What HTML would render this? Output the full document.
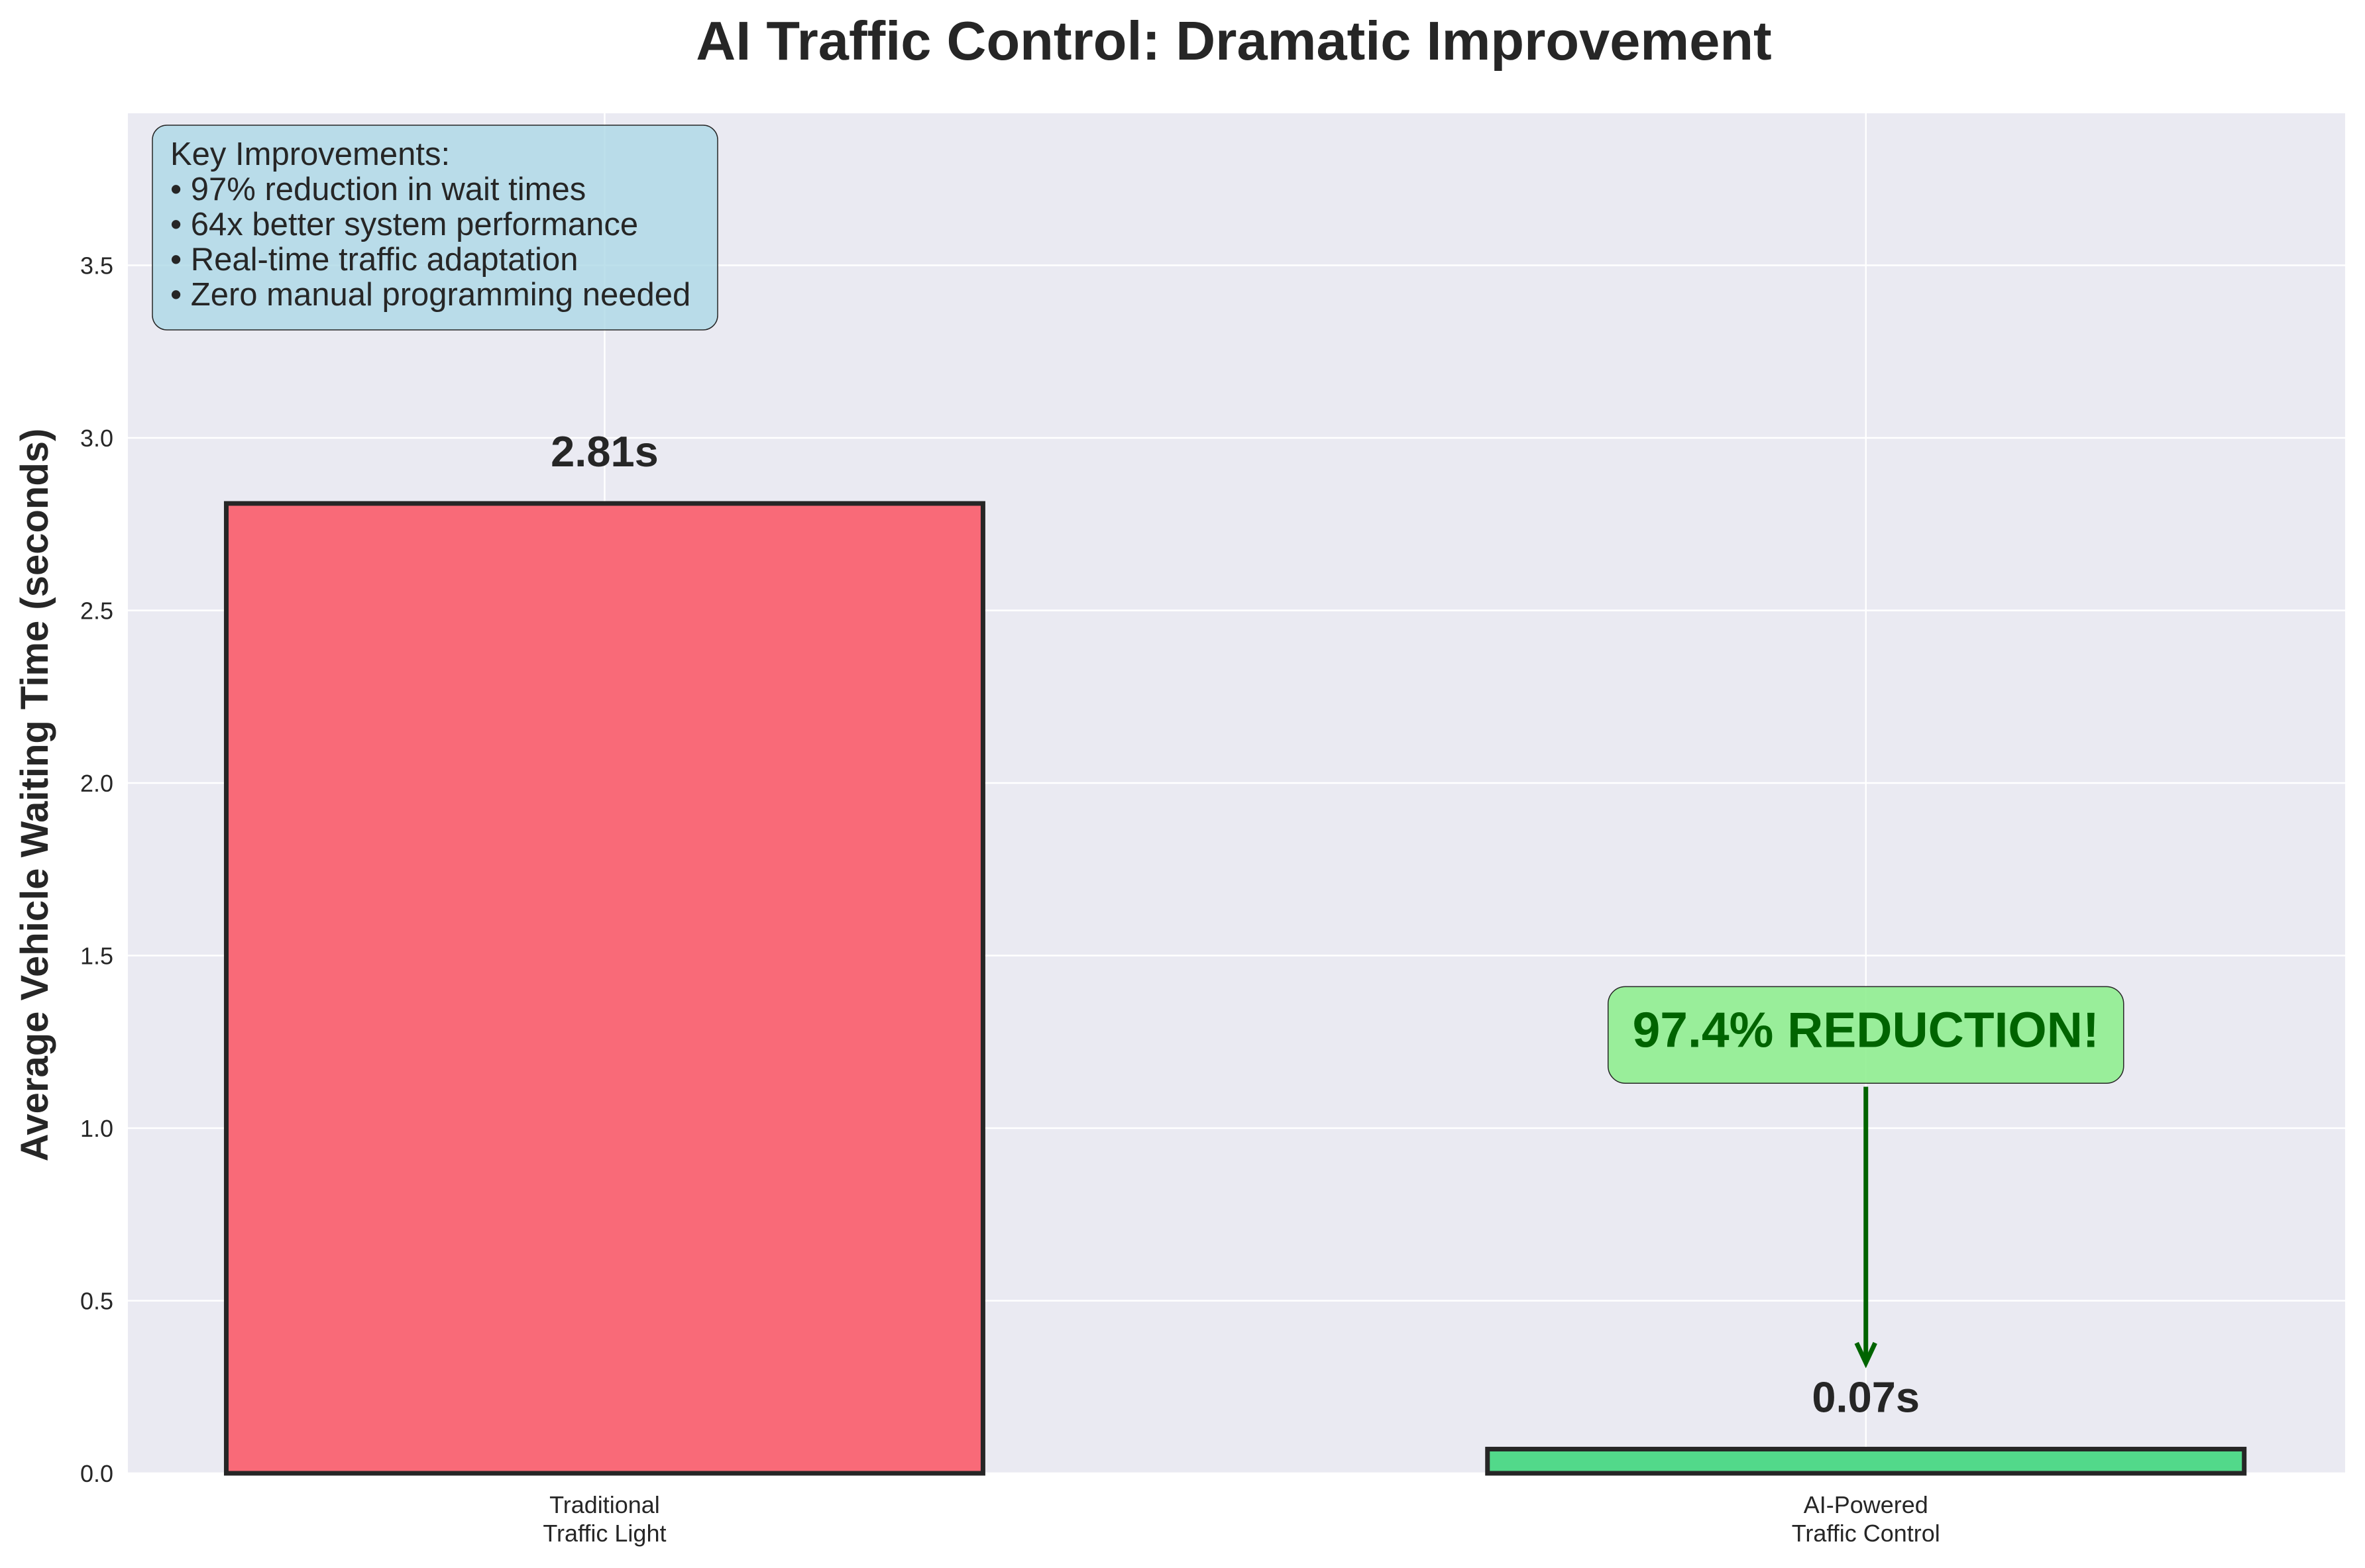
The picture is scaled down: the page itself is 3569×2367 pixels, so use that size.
<!DOCTYPE html>
<html><head><meta charset="utf-8"><style>
body{margin:0;background:#fff;}
svg{display:block;font-family:"Liberation Sans",Arial,sans-serif;}
</style></head><body>
<svg id="chart" width="3569" height="2367" viewBox="0 0 3569 2367">
<text x="1862" y="90" text-anchor="middle" font-size="83" font-weight="bold" fill="#262626">AI Traffic Control: Dramatic Improvement</text>
<rect x="193" y="171" width="3346" height="2053" fill="#EAEAF2"/>
<g id="grid"></g>
<g id="bars"></g>
<g id="labels"></g>
<text transform="translate(72,1200) rotate(-90)" text-anchor="middle" font-size="58" font-weight="bold" fill="#262626">Average Vehicle Waiting Time (seconds)</text>
<g>
<rect x="230" y="189" width="853" height="309" rx="22" fill="#ADD8E6" fill-opacity="0.8" stroke="#262626" stroke-width="1.5"/>
<text font-size="49" fill="#262626">
<tspan x="257" y="249">Key Improvements:</tspan>
<tspan x="257" y="302">• 97% reduction in wait times</tspan>
<tspan x="257" y="355">• 64x better system performance</tspan>
<tspan x="257" y="408">• Real-time traffic adaptation</tspan>
<tspan x="257" y="461">• Zero manual programming needed</tspan>
</text>
</g>
<g id="annot"></g>
</svg>
<script>
const categories=["Traditional|Traffic Light","AI-Powered|Traffic Control"];
const values=[2.81,0.07];
const valueLabels=["2.81s","0.07s"];
const colors=["#F96A78","#52D98A"];
const yTicks=[0,0.5,1,1.5,2,2.5,3,3.5];
const reduction=[97.4];
const NS="http://www.w3.org/2000/svg";
const svg=document.getElementById('chart');
const L=193,R=3539,T=171,B=2224,ymax=(B-T)/521;
const xmin=-0.378,xmax=1.38;
function X(v){return L+(v-xmin)/(xmax-xmin)*(R-L);}
function Y(v){return B-v/ymax*(B-T);}
function mk(t,a,p){const e=document.createElementNS(NS,t);for(const k in a)e.setAttribute(k,a[k]);(p||svg).appendChild(e);return e;}
const grid=document.getElementById('grid');
yTicks.forEach(t=>{
  const l=mk('line',{x1:L,x2:R,y1:Y(t),y2:Y(t),stroke:'#fff','stroke-width':2.5},grid);
  
  
  const tx=mk('text',{x:L-22,y:Y(t)+13,'text-anchor':'end','font-size':36,fill:'#262626'},grid);
  tx.textContent=t.toFixed(1);
  
  
});
categories.forEach((c,i)=>{
  const l=mk('line',{x1:X(i),x2:X(i),y1:T,y2:B,stroke:'#fff','stroke-width':2.5},grid);
  
  
});
const bars=document.getElementById('bars'),labels=document.getElementById('labels');
const bw=0.6;
values.forEach((v,i)=>{
  const x0=X(i-bw/2),x1=X(i+bw/2);
  const r=mk('rect',{x:x0,y:Y(v),width:x1-x0,height:Y(0)-Y(v),fill:colors[i],stroke:'#262626','stroke-width':7},bars);
  
  
  const t=mk('text',{x:X(i),y:Y(v+0.1)-4,'text-anchor':'middle','font-size':65,'font-weight':'bold',fill:'#262626'},labels);
  t.textContent=valueLabels[i];
  
  
  const parts=categories[i].split('|');
  parts.forEach((p,j)=>{
    const tl=mk('text',{x:X(i),y:2284+j*43,'text-anchor':'middle','font-size':36,fill:'#262626'},labels);
    tl.textContent=p;
    
    
  });
});
const an=document.getElementById('annot');
const ax=X(1);
const ab=mk('rect',{x:ax-389,y:Y(1.41),width:778,height:Y(1.13)-Y(1.41),rx:26,fill:'#90EE90','fill-opacity':0.9,stroke:'#262626','stroke-width':1.5},an);


const at=mk('text',{x:ax,y:Y(1.27)+18,'text-anchor':'middle','font-size':75,'font-weight':'bold',fill:'#006400'},an);
at.textContent=reduction[0]+'% REDUCTION!';


const line=mk('line',{x1:ax,x2:ax,y1:Y(1.12),y2:Y(0.32),stroke:'#006400','stroke-width':7},an);


const head=mk('polyline',{points:`${ax-14},${Y(0.32)-30} ${ax},${Y(0.32)} ${ax+14},${Y(0.32)-30}`,fill:'none',stroke:'#006400','stroke-width':7},an);


</script>
</body></html>
